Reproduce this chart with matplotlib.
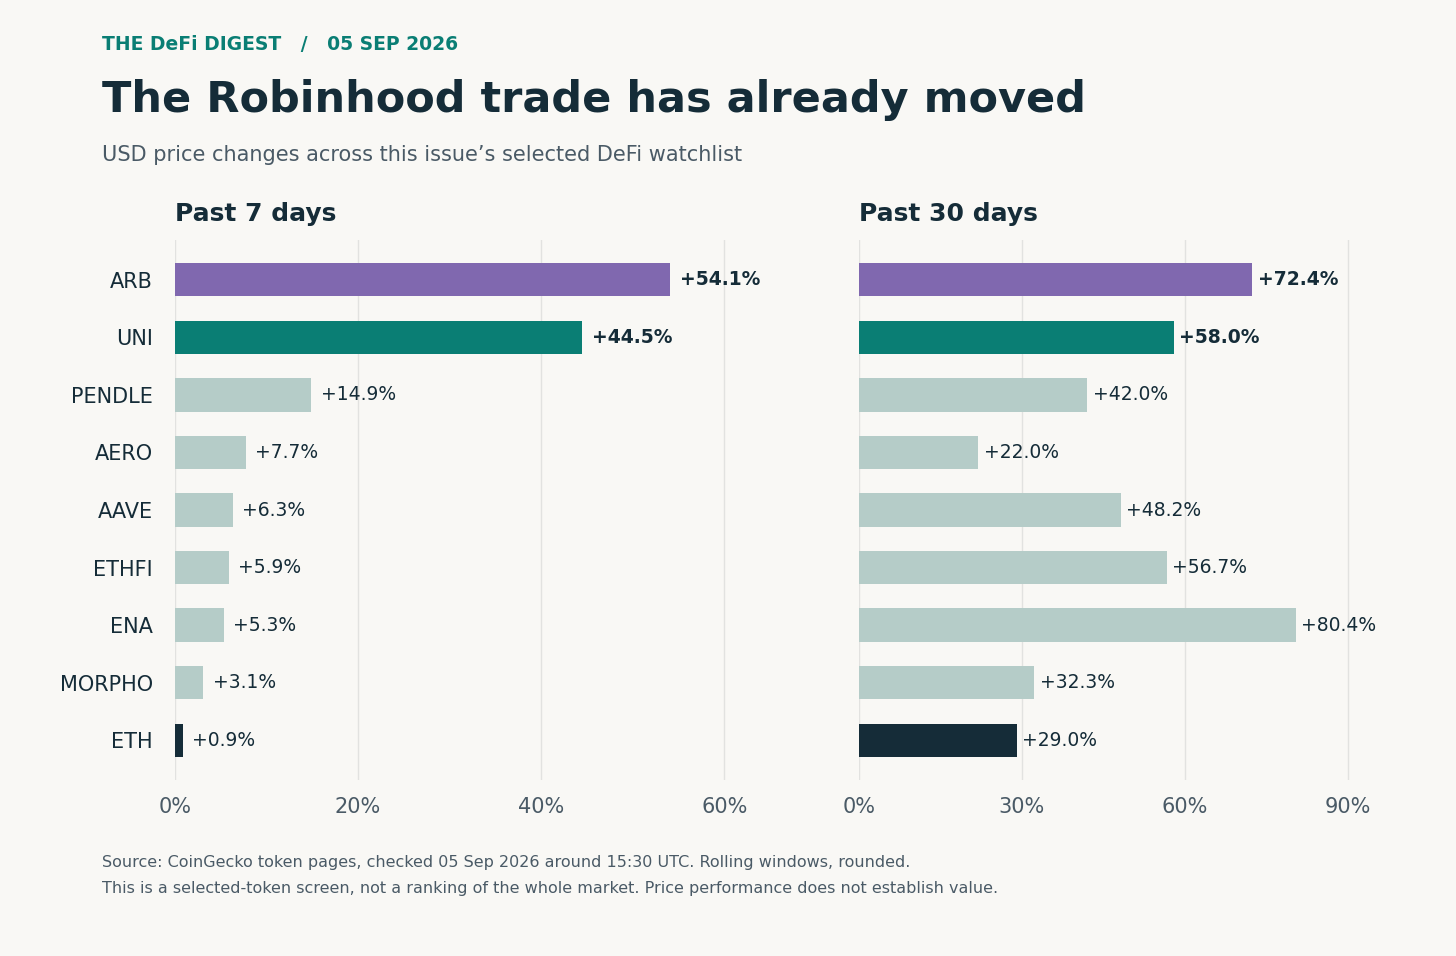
import matplotlib.pyplot as plt

tokens = ["ARB", "UNI", "PENDLE", "AERO", "AAVE", "ETHFI", "ENA", "MORPHO", "ETH"]
chg_7d = [54.1, 44.5, 14.9, 7.7, 6.3, 5.9, 5.3, 3.1, 0.9]
chg_30d = [72.4, 58.0, 42.0, 22.0, 48.2, 56.7, 80.4, 32.3, 29.0]

bg = "#F9F8F5"
dark = "#152C38"
grey = "#4A5A66"
colors = ["#8068AF", "#0A7E74"] + ["#B5CCC8"] * 6 + [dark]

W, H = 1456, 956
fig = plt.figure(figsize=(W / 100, H / 100), dpi=100, facecolor=bg)

fig.text(102 / W, 1 - 45 / H, "THE DeFi DIGEST   /   05 SEP 2026", color="#0A7E74",
         fontsize=13.5, fontweight="bold", va="center")
fig.text(102 / W, 1 - 100 / H, "The Robinhood trade has already moved", color=dark,
         fontsize=31, fontweight="bold", va="center")
fig.text(102 / W, 1 - 155 / H, "USD price changes across this issue\u2019s selected DeFi watchlist",
         color=grey, fontsize=15, va="center")
fig.text(102 / W, 1 - 863 / H,
         "Source: CoinGecko token pages, checked 05 Sep 2026 around 15:30 UTC. Rolling windows, rounded.",
         color=grey, fontsize=11.5, va="center")
fig.text(102 / W, 1 - 888 / H,
         "This is a selected-token screen, not a ranking of the whole market. Price performance does not establish value.",
         color=grey, fontsize=11.5, va="center")


def panel(left, width, vals, xmax, ticks, title, pad):
    ax = fig.add_axes([left / W, (H - 780) / H, width / W, 540 / H], facecolor=bg)
    y = range(len(tokens))
    ax.barh(y, vals, height=0.58, color=colors, zorder=2)
    for i, v in enumerate(vals):
        ax.text(v + pad, i, f"+{v:.1f}%", va="center", fontsize=13.5, color=dark,
                fontweight="bold" if i < 2 else "normal")
    ax.set_ylim(len(tokens) - 0.31, -0.69)
    ax.set_xlim(0, xmax)
    ax.set_xticks(ticks)
    ax.set_xticklabels([f"{t}%" for t in ticks], fontsize=15, color=grey)
    ax.grid(axis="x", color="#E2E2E0", lw=1, zorder=0)
    for s in ax.spines.values():
        s.set_visible(False)
    ax.tick_params(length=0, pad=12)
    ax.set_title(title, loc="left", fontsize=18, fontweight="bold", color=dark, pad=14)
    return ax


ax1 = panel(175, 586, chg_7d, 64, [0, 20, 40, 60], "Past 7 days", 1.0)
ax1.set_yticks(range(len(tokens)))
ax1.set_yticklabels(tokens, fontsize=15, color=dark)
ax1.tick_params(axis="y", pad=16)
ax2 = panel(859, 516, chg_30d, 95, [0, 30, 60, 90], "Past 30 days", 1.0)
ax2.set_yticks([])

fig.savefig("out.png", dpi=100, facecolor=bg)
